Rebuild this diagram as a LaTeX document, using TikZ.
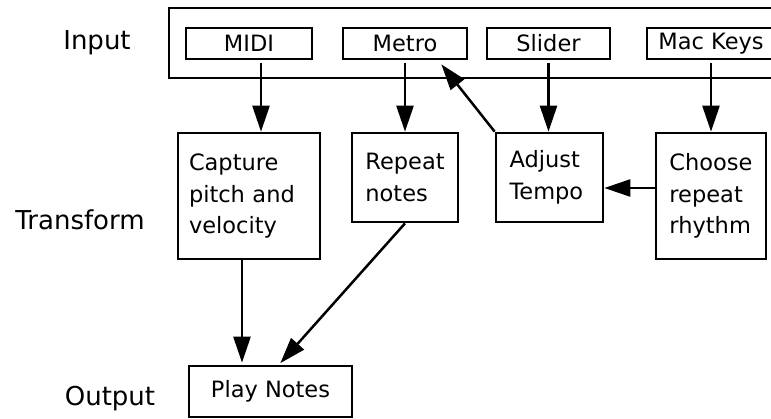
\documentclass[tikz,border=0pt]{standalone}
\usepackage{fontspec}
\setmainfont{DejaVu Sans}
\usetikzlibrary{arrows.meta}
\tikzset{
  box/.style={draw, line width=2.7pt, rectangle, inner sep=0pt, align=left,
    font=\fontsize{22.5}{31.5}\selectfont},
  lbl/.style={inner sep=0pt, anchor=base, font=\fontsize{26}{30}\selectfont},
  arr/.style={line width=2.5pt, -{Triangle[length=26pt,width=17pt]}}
}
\begin{document}
\begin{tikzpicture}[x=1pt,y=-1pt]
\clip (0,0) rectangle (771,419);
\fill[white] (0,0) rectangle (771,419);
% labels
\node[lbl] (linput) at (97,50) {Input};
\node[lbl] (ltrans) at (80,230) {Transform};
\node[lbl] (lout) at (110,406) {Output};
% input group
\node[box, minimum width=621pt, minimum height=70pt] (inbox) at (479.5,43) {};
\node[box, minimum width=126pt, minimum height=31pt] (midi) at (249,43.5) {MIDI};
\node[box, minimum width=124pt, minimum height=31pt] (metro) at (405,43.5) {Metro};
\node[box, minimum width=123pt, minimum height=31pt] (slider) at (548.5,43.5) {Slider};
\node[box, minimum width=128pt, minimum height=31pt] (mackeys) at (711,43.5) {Mac Keys};
% transform
\node[box, minimum width=142pt, minimum height=126pt, text width=120pt, inner xsep=11pt] (cap) at (249,196) {Capture\\pitch and\\velocity};
\node[box, minimum width=106pt, minimum height=89pt] (rep) at (405,177.5) {Repeat\\notes};
\node[box, minimum width=107pt, minimum height=89pt, text width=80pt, inner xsep=13.5pt] (adj) at (549.5,177.5) {Adjust\\Tempo};
\node[box, minimum width=110pt, minimum height=126pt] (choose) at (711,196) {Choose\\repeat\\rhythm};
% output
\node[box, minimum width=163pt, minimum height=51pt] (play) at (270.5,391.5) {Play Notes};
% connectors
\draw[arr, shorten <=3pt] ([xshift=12pt]midi.south) -- ([xshift=12pt]midi.south |- cap.north);
\draw[arr, shorten <=3pt] (metro.south) -- (metro.south |- rep.north);
\draw[arr, shorten <=3pt] (slider.south) -- (slider.south |- adj.north);
\draw[arr, shorten <=3pt] (mackeys.south) -- (mackeys.south |- choose.north);
\draw[arr] ([yshift=8pt]choose.west) -- ([yshift=8pt]choose.west -| adj.east);
\draw[arr] (adj.north west) -- ([xshift=-27pt,yshift=-4pt]metro.south east);
\draw[arr, shorten >=2pt] ([xshift=-7pt]cap.south) -- ([xshift=-7pt]cap.south |- play.north);
\draw[arr, shorten >=2pt] (rep.south) -- ([xshift=8.5pt]play.north);
\end{tikzpicture}
\end{document}
